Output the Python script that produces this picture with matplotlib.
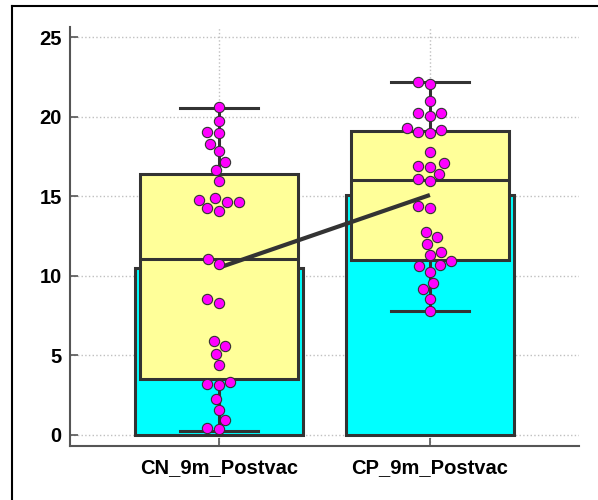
import numpy as np
import matplotlib
matplotlib.use("Agg")
import matplotlib.pyplot as plt
from matplotlib.lines import Line2D
import seaborn as sns

groups = ["CN_9m_Postvac", "CP_9m_Postvac"]

cn_values = [20.6, 19.7, 19.0, 18.95, 18.3, 17.85, 17.15, 16.65, 15.95,
             14.85, 14.75, 14.65, 14.6, 14.25, 14.05, 11.05, 10.7, 8.5, 8.3,
             5.9, 5.6, 5.1, 4.4, 3.3, 3.2, 3.1, 2.25, 1.55, 0.95, 0.4, 0.35]
cp_values = [22.2, 22.05, 20.95, 20.25, 20.25, 20.05, 19.25, 19.15, 19.05,
             18.95, 17.75, 17.05, 16.9, 16.85, 16.4, 16.1, 15.95, 14.4, 14.25,
             12.75, 12.45, 12.0, 11.5, 11.3, 10.9, 10.65, 10.6, 10.25, 9.55,
             9.15, 8.55, 7.8]

means = [10.5, 15.07]
whislo = [0.25, 7.8]
q1 = [3.5, 11.0]
medians = [11.05, 16.0]
q3 = [16.4, 19.1]
whishi = [20.55, 22.2]

yticks = [0, 5, 10, 15, 20, 25]

edge = "#333333"

fig = plt.figure(figsize=(5.98, 5.0), dpi=100)
ax = fig.add_axes([0.117, 0.108, 0.851, 0.838])

pos = np.arange(len(groups))

# mean bars
ax.bar(pos, means, width=0.8, color="#00FFFF", edgecolor=edge, linewidth=2.2, zorder=1)

# box + whiskers
stats = []
for i in range(len(groups)):
    stats.append(dict(whislo=whislo[i], q1=q1[i], med=medians[i], q3=q3[i],
                      whishi=whishi[i], fliers=[]))
ax.bxp(stats, positions=pos, widths=0.745, capwidths=0.37, patch_artist=True,
       manage_ticks=False,
       boxprops=dict(facecolor="#FFFF99", edgecolor=edge, linewidth=2.2),
       medianprops=dict(color=edge, linewidth=2.2),
       whiskerprops=dict(color=edge, linewidth=2.2),
       capprops=dict(color=edge, linewidth=2.2), zorder=2)

# line joining the means
ax.plot(pos, means, color=edge, linewidth=3, zorder=3, solid_capstyle="butt")

# points
xs = [groups[0]] * len(cn_values) + [groups[1]] * len(cp_values)
ys = cn_values + cp_values
sns.swarmplot(x=xs, y=ys, ax=ax, color="#FF00FF", size=7.4, edgecolor=edge,
              linewidth=0.8, zorder=4)

ax.set_xlim(-0.706, 1.706)
ax.set_ylim(-0.71, 25.63)
ax.set_xticks(pos)
ax.set_xticklabels(groups)
ax.set_yticks(yticks)
ax.set_xlabel("")
ax.set_ylabel("")

for lab in ax.get_xticklabels() + ax.get_yticklabels():
    lab.set_fontweight("bold")
    lab.set_fontfamily("Liberation Sans")
    lab.set_fontsize(14.5)

ax.tick_params(axis="both", direction="in", length=6, width=1.2, colors="#555555",
               labelcolor="black")
ax.tick_params(axis="x", pad=9)
ax.tick_params(axis="y", pad=6)

ax.grid(True, color="#c0c0c0", linestyle=":", linewidth=1.0, zorder=0)
ax.set_axisbelow(True)

for s in ["top", "right"]:
    ax.spines[s].set_visible(False)
for s in ["left", "bottom"]:
    ax.spines[s].set_color("#555555")
    ax.spines[s].set_linewidth(1.5)

# outer frame
fig.add_artist(Line2D([0.02, 0.02], [0.0, 0.988], color="black", linewidth=1.5,
                      transform=fig.transFigure))
fig.add_artist(Line2D([0.02, 1.0], [0.988, 0.988], color="black", linewidth=1.5,
                      transform=fig.transFigure))

fig.savefig("out.png", dpi=100)
